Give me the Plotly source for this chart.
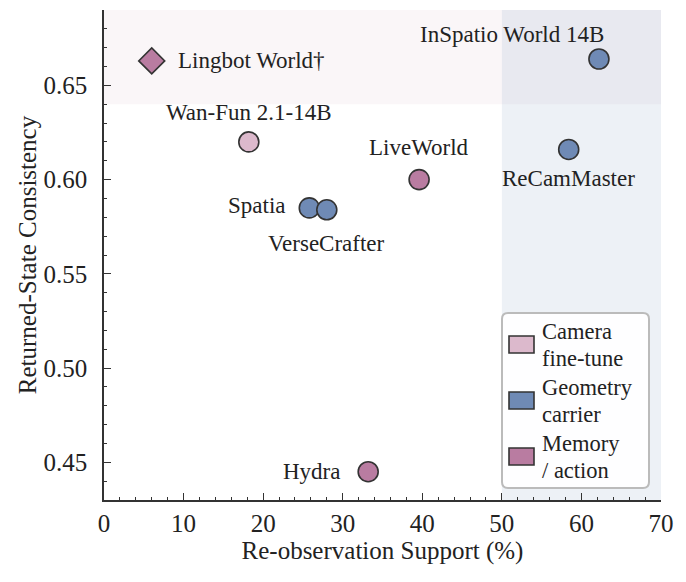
import plotly.graph_objects as go

# ---- data ----
models = ["Lingbot World†", "InSpatio World 14B", "Wan-Fun 2.1-14B", "ReCamMaster",
          "LiveWorld", "Spatia", "VerseCrafter", "Hydra"]
reobs_support = [6.0, 62.2, 18.2, 58.4, 39.6, 25.8, 28.0, 33.2]
returned_consistency = [0.663, 0.664, 0.620, 0.616, 0.600, 0.585, 0.584, 0.445]
groups = ["Memory / action", "Geometry carrier", "Camera fine-tune", "Geometry carrier",
          "Memory / action", "Geometry carrier", "Geometry carrier", "Memory / action"]
symbols = ["diamond", "circle", "circle", "circle", "circle", "circle", "circle", "circle"]
legend_labels = ["Camera<br>fine-tune", "Geometry<br>carrier", "Memory<br>/ action"]
legend_groups = ["Camera fine-tune", "Geometry carrier", "Memory / action"]

group_colors = {"Camera fine-tune": "#dcb9cc", "Geometry carrier": "#6f8ab5",
                "Memory / action": "#b97ca1"}

# label placement (style): (xshift, yshift) of label centre from the point
label_pos = {
    "Lingbot World†": (100, 0),
    "InSpatio World 14B": (-87, 25),
    "Wan-Fun 2.1-14B": (0, 29),
    "ReCamMaster": (0, -29),
    "LiveWorld": (0, 32),
    "Spatia": (-52, 2),
    "VerseCrafter": (0, -34),
    "Hydra": (-57, 0),
}

FONT = "'Liberation Serif', 'Times New Roman', 'DejaVu Serif', serif"
TXT = "#222222"
W, H = 686, 582
L, R, T, B = 104, 25, 10, 82
X_RANGE = [0, 70]
Y_RANGE = [0.43, 0.69]
ANN_SIZE = 23
LEG_SIZE = 22.5
TICK_SIZE = 25
TITLE_SIZE = 25

fig = go.Figure()

# background regions
fig.add_shape(type="rect", xref="x", yref="y", x0=0, x1=70, y0=0.64, y1=0.69,
              fillcolor="rgba(190,130,160,0.07)", line_width=0, layer="below")
fig.add_shape(type="rect", xref="x", yref="y", x0=50, x1=70, y0=0.43, y1=0.69,
              fillcolor="rgba(119,148,184,0.13)", line_width=0, layer="below")

# points
for i, m in enumerate(models):
    fig.add_trace(go.Scatter(
        x=[reobs_support[i]], y=[returned_consistency[i]], mode="markers",
        name=m, showlegend=False,
        marker=dict(symbol=symbols[i], size=20, color=group_colors[groups[i]],
                    line=dict(color="#333333", width=1.6)),
        hovertemplate=m + "<br>%{x}%, %{y}<extra></extra>"))
    xs, ys = label_pos[m]
    fig.add_annotation(x=reobs_support[i], y=returned_consistency[i], text=m,
                       showarrow=False, xshift=xs, yshift=ys, xanchor="center",
                       yanchor="middle", borderpad=0, borderwidth=0,
                       font=dict(family=FONT, size=ANN_SIZE, color=TXT))

# manual legend (pixel -> paper helpers)
pw, ph = W - L - R, H - T - B
def px(x):
    return (x - L) / pw
def py(y):
    return (H - B - y) / ph

bx0, by0, bx1, by1, rr = 502, 313, 649, 488, 6
path = (f"M {px(bx0+rr)},{py(by0)} L {px(bx1-rr)},{py(by0)} "
        f"Q {px(bx1)},{py(by0)} {px(bx1)},{py(by0+rr)} L {px(bx1)},{py(by1-rr)} "
        f"Q {px(bx1)},{py(by1)} {px(bx1-rr)},{py(by1)} L {px(bx0+rr)},{py(by1)} "
        f"Q {px(bx0)},{py(by1)} {px(bx0)},{py(by1-rr)} L {px(bx0)},{py(by0+rr)} "
        f"Q {px(bx0)},{py(by0)} {px(bx0+rr)},{py(by0)} Z")
fig.add_shape(type="path", xref="paper", yref="paper", path=path,
              fillcolor="rgba(255,255,255,0.92)", line=dict(color="#bbbbbb", width=2))
for k, (lab, g) in enumerate(zip(legend_labels, legend_groups)):
    cy = 344.5 + 56 * k
    fig.add_shape(type="rect", xref="paper", yref="paper",
                  x0=px(509), x1=px(534), y0=py(cy - 8.5), y1=py(cy + 8.5),
                  fillcolor=group_colors[g], line=dict(color="#333333", width=1.6))
    for j, line in enumerate(lab.split("<br>")):
        fig.add_annotation(xref="paper", yref="paper", x=px(542), y=py(cy - 13 + 26.5 * j),
                           text=line, showarrow=False, xanchor="left", yanchor="middle",
                           borderpad=0, borderwidth=0,
                           font=dict(family=FONT, size=LEG_SIZE, color=TXT))

axis_common = dict(showline=True, linecolor="#333333", linewidth=1.5, mirror=False,
                   ticks="inside", ticklen=7, tickwidth=1.3, tickcolor="#333333",
                   showgrid=False, zeroline=False,
                   tickfont=dict(family=FONT, size=TICK_SIZE, color=TXT))

fig.update_xaxes(range=X_RANGE, dtick=10, tick0=0, ticklabelstandoff=0,
                 minor=dict(dtick=2, ticks="inside", ticklen=3.5, tickwidth=1.1,
                            tickcolor="#333333", showgrid=False),
                 title=dict(text="Re-observation Support (%)", standoff=6,
                            font=dict(family=FONT, size=TITLE_SIZE, color=TXT)),
                 **axis_common)
fig.update_yaxes(range=Y_RANGE, dtick=0.05, tick0=0.45, tickformat=".2f",
                 ticklabelstandoff=10,
                 minor=dict(dtick=0.01, ticks="inside", ticklen=3.5, tickwidth=1.1,
                            tickcolor="#333333", showgrid=False),
                 title=dict(text="Returned-State Consistency", standoff=0,
                            font=dict(family=FONT, size=TITLE_SIZE, color=TXT)),
                 **axis_common)

fig.update_layout(width=W, height=H, margin=dict(l=L, r=R, t=T, b=B),
                  plot_bgcolor="white", paper_bgcolor="white", showlegend=False,
                  font=dict(family=FONT, color=TXT))

fig.write_html("out.html")
